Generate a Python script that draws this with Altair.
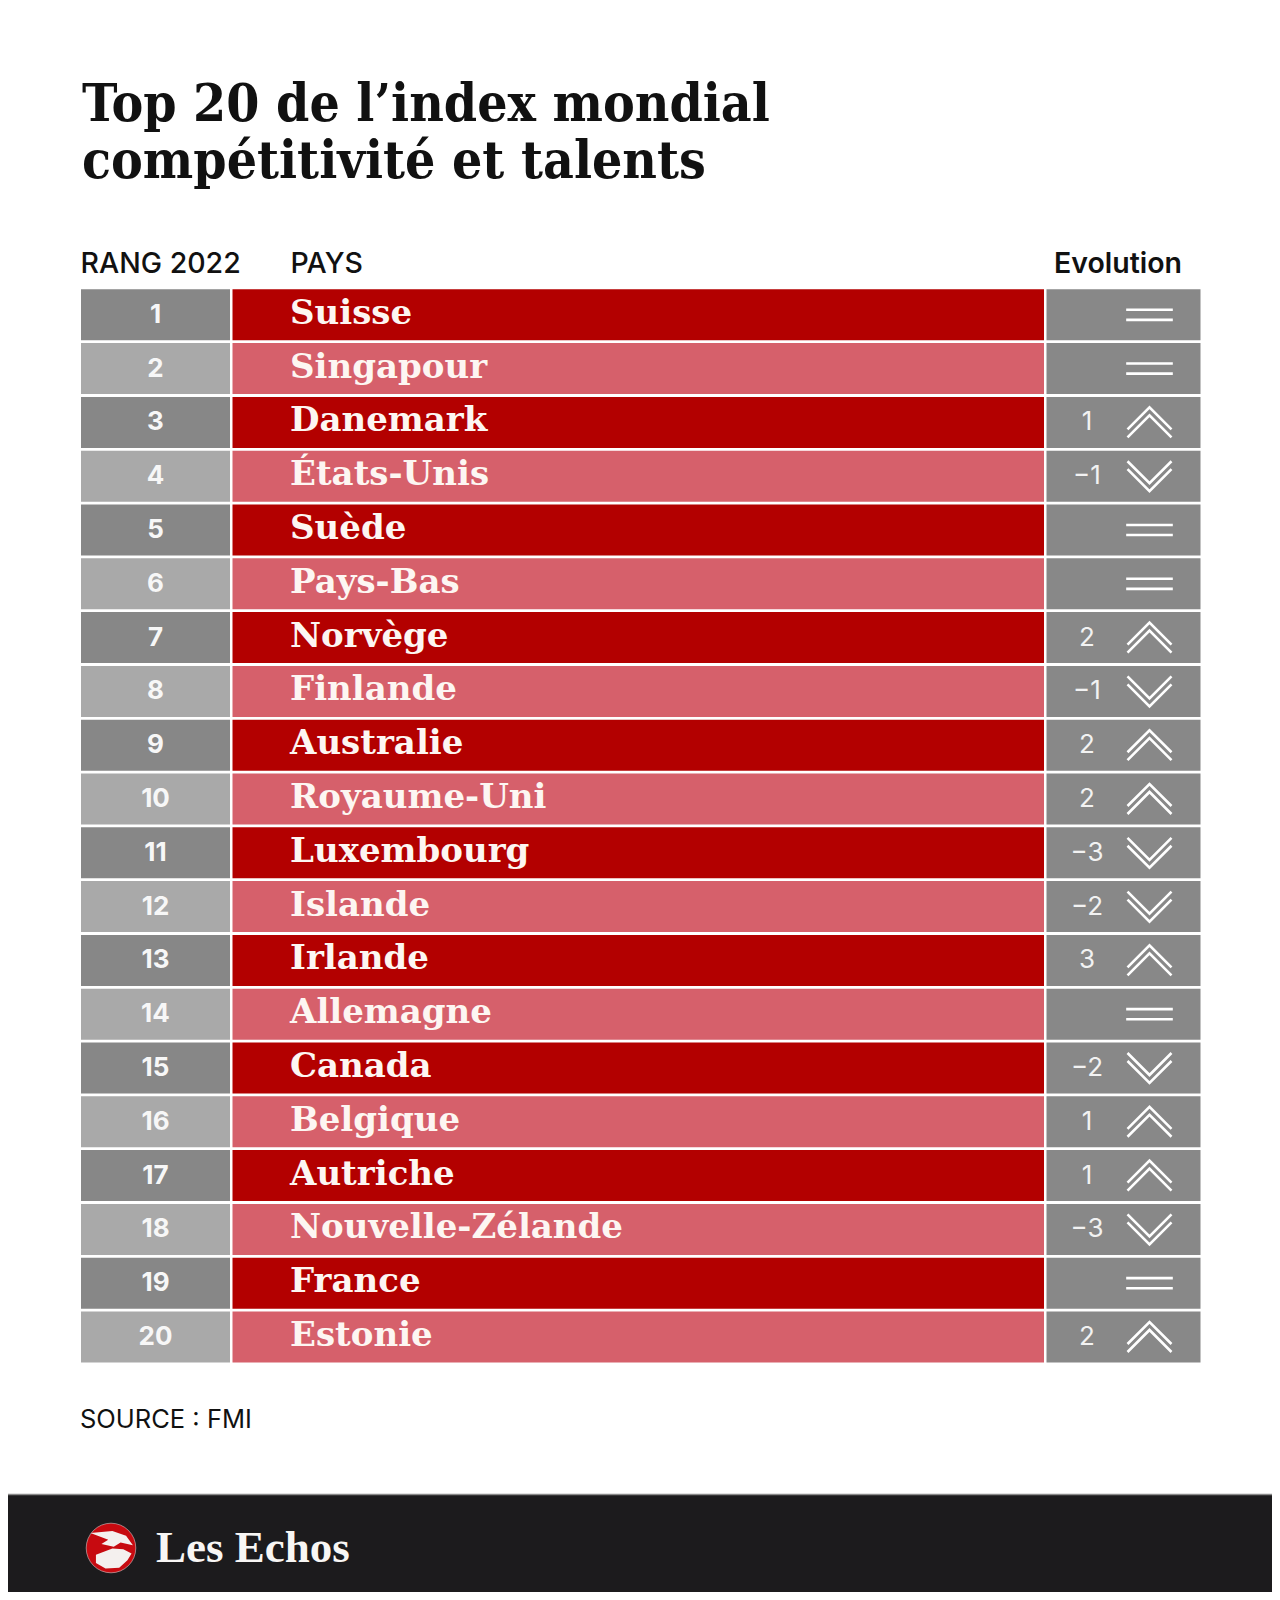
import altair as alt
import pandas as pd

# ---- data ----
ranks = list(range(1, 21))
countries = ["Suisse", "Singapour", "Danemark", "États-Unis", "Suède", "Pays-Bas",
             "Norvège", "Finlande", "Australie", "Royaume-Uni", "Luxembourg", "Islande",
             "Irlande", "Allemagne", "Canada", "Belgique", "Autriche",
             "Nouvelle-Zélande", "France", "Estonie"]
evolution = [0, 0, 1, -1, 0, 0, 2, -1, 2, 2, -3, -2, 3, 0, -2, 1, 1, -3, 0, 2]

title_lines = ["Top 20 de l’index mondial", "compétitivité et talents"]
header_rank = "RANG 2022"
header_country = "PAYS"
header_evo = "Evolution"
source_text = "SOURCE : FMI"
brand_text = "Les Echos"

df = pd.DataFrame({"rank": ranks, "country": countries, "evo": evolution})
df["evo_label"] = [("" if v == 0 else (str(v) if v > 0 else "\u2212" + str(-v))) for v in evolution]
df["direction"] = ["eq" if v == 0 else ("up" if v > 0 else "down") for v in evolution]

# ---- layout / style ----
SERIF_C = "'DejaVu Serif Condensed', 'DejaVu Serif', serif"
SERIF = "'DejaVu Serif', serif"
SANS = "Inter, 'Noto Sans', sans-serif"
RANK_X, RANK_X2 = 73, 222
CTRY_X, CTRY_X2 = 224.5, 1036
EVO_X, EVO_X2 = 1038.5, 1192.5

yscale = alt.Scale(type="band", domain=ranks, range=[281.3, 1354.5],
                   paddingInner=0.052, paddingOuter=0)
Y = alt.Y("rank:O", scale=yscale, axis=None)

base = alt.Chart(df)
odd = "datum.rank % 2 == 1"

rank_cells = base.mark_rect().encode(
    y=Y, x=alt.value(RANK_X), x2=alt.value(RANK_X2),
    fill=alt.condition(odd, alt.value("#878787"), alt.value("#a9a9a9")))
country_cells = base.mark_rect().encode(
    y=Y, x=alt.value(CTRY_X), x2=alt.value(CTRY_X2),
    fill=alt.condition(odd, alt.value("#b30000"), alt.value("#d6606b")))
evo_cells = base.mark_rect(fill="#888888").encode(
    y=Y, x=alt.value(EVO_X), x2=alt.value(EVO_X2))

rank_text = base.mark_text(font=SANS, fontSize=26, fontWeight=700, color="#f7f7f7",
                           align="center", baseline="middle").encode(
    y=Y, x=alt.value((RANK_X + RANK_X2) / 2), text="rank:N")
country_text = base.mark_text(font=SERIF, fontSize=34, fontWeight="bold", color="#fdf6f2",
                              align="left", baseline="middle", dy=-1).encode(
    y=Y, x=alt.value(282), text="country:N")
evo_text = base.mark_text(font=SANS, fontSize=26, fontWeight=400, color="#f2f2f2",
                          align="center", baseline="middle").encode(
    y=Y, x=alt.value(1079), text="evo_label:N")

UP = "M-1,0.32L0,-0.68L1,0.32M-1,0.68L0,-0.32L1,0.68"
DOWN = "M-1,-0.32L0,0.68L1,-0.32M-1,-0.68L0,0.32L1,-0.68"
EQ = "M-1.06,-0.23L1.06,-0.23M-1.06,0.23L1.06,0.23"
arrows = base.mark_point(filled=False, stroke="#ffffff", strokeWidth=2.6, opacity=1,
                         size=1936).encode(
    y=Y, x=alt.value(1141.5),
    shape=alt.Shape("direction:N", scale=alt.Scale(domain=["up", "down", "eq"],
                                                     range=[UP, DOWN, EQ]), legend=None))

one = alt.Data(values=[{"k": 0}])

title = alt.Chart(one).mark_text(font=SERIF_C, fontSize=53, fontWeight="bold", color="#111111",
                                 align="left", baseline="alphabetic", lineHeight=57,
                                 text=title_lines).encode(x=alt.value(74), y=alt.value(113))

hdr_rank = alt.Chart(one).mark_text(font=SANS, fontSize=28.5, fontWeight=500, color="#111111",
                                    align="left", baseline="alphabetic",
                                    text=header_rank).encode(x=alt.value(72.5), y=alt.value(264.5))
hdr_country = alt.Chart(one).mark_text(font=SANS, fontSize=28.5, fontWeight=500, color="#111111",
                                       align="left", baseline="alphabetic",
                                       text=header_country).encode(x=alt.value(282.5), y=alt.value(264.5))
hdr_evo = alt.Chart(one).mark_text(font=SANS, fontSize=28.5, fontWeight=600, color="#111111",
                                   align="right", baseline="alphabetic",
                                   text=header_evo).encode(x=alt.value(1174), y=alt.value(264.5))

source = alt.Chart(one).mark_text(font=SANS, fontSize=25.5, fontWeight=400, color="#111111",
                                  align="left", baseline="alphabetic",
                                  text=source_text).encode(x=alt.value(72), y=alt.value(1420))

footer = alt.Chart(one).mark_rect(fill="#1c1b1d").encode(
    x=alt.value(0), x2=alt.value(1264), y=alt.value(1486), y2=alt.value(1584))
footer_line = alt.Chart(one).mark_rule(stroke="#8a8a8a", strokeWidth=1.5).encode(
    x=alt.value(0), x2=alt.value(1264), y=alt.value(1486.5))

logo_circle = alt.Chart(one).mark_point(shape="circle", filled=True, fill="#c70a10",
                                        opacity=1, size=2460, stroke="#e8e8e8",
                                        strokeWidth=0.5).encode(
    x=alt.value(103), y=alt.value(1540))
HEAD = ("M-0.75,-0.55L0.05,-0.62L0.55,-0.45L0.8,-0.1L0.35,-0.2L0.1,-0.05L-0.35,-0.15L-0.1,-0.3Z"
        "M-0.55,0.25L0.05,0.02L0.45,0.05L0.75,0.2L0.6,0.45L0.3,0.72L-0.2,0.75L-0.55,0.55Z")
logo_head = alt.Chart(one).mark_point(shape=HEAD, filled=True, fill="#f4f0ee", opacity=1,
                                      size=3000).encode(x=alt.value(103), y=alt.value(1540))
brand = alt.Chart(one).mark_text(font="'Liberation Serif', serif", fontSize=45, fontWeight="bold",
                                 color="#f8f6f4", align="left", baseline="alphabetic",
                                 text=brand_text).encode(x=alt.value(148), y=alt.value(1553.5))

chart = alt.layer(
    rank_cells, country_cells, evo_cells, rank_text, country_text, evo_text, arrows,
    title, hdr_rank, hdr_country, hdr_evo, source, footer, footer_line,
    logo_circle, logo_head, brand
).properties(
    width=1264, height=1584, padding=0,
    autosize=alt.AutoSizeParams(type="none"), background="#ffffff"
).configure_view(stroke=None)

chart.save("out.html", embed_options={"renderer": "svg", "actions": False})
